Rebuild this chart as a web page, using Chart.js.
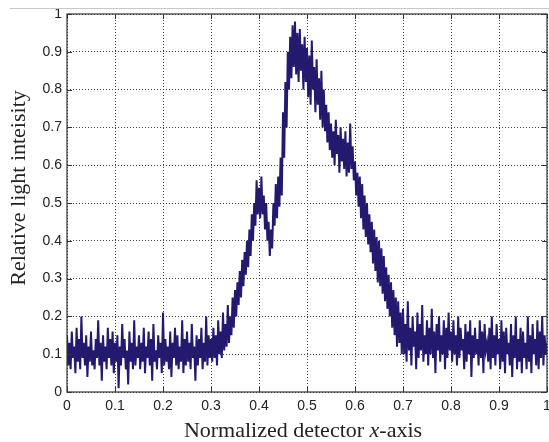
<!DOCTYPE html>
<html>
<head>
<meta charset="utf-8">
<script src="https://cdn.jsdelivr.net/npm/chart.js@4/dist/chart.umd.min.js"></script>
<style>
  html, body { margin: 0; padding: 0; background: #fff; }
  #wrap { width: 549px; height: 442px; }
</style>
</head>
<body>
<div id="wrap"><canvas id="chart" width="549" height="442"></canvas></div>
<script>
// tick labels
const xTicks = [0, 0.1, 0.2, 0.3, 0.4, 0.5, 0.6, 0.7, 0.8, 0.9, 1];
const yTicks = [0, 0.1, 0.2, 0.3, 0.4, 0.5, 0.6, 0.7, 0.8, 0.9, 1];

// relative light intensity (401 samples, 0..1 on the detector axis)
const lightLevels = [
  0.15,0.07,0.13,0.06,0.16,0.09,0.12,0.05,0.17,0.08,0.14,0.06,0.20,0.09,0.13,0.07,0.15,0.04,0.12,0.08,
  0.16,0.07,0.11,0.06,0.14,0.09,0.19,0.07,0.13,0.03,0.15,0.08,0.12,0.06,0.17,0.09,0.14,0.07,0.16,0.05,
  0.13,0.08,0.15,0.01,0.12,0.07,0.18,0.09,0.14,0.06,0.11,0.02,0.16,0.08,0.13,0.06,0.19,0.07,0.12,0.09,
  0.15,0.06,0.13,0.08,0.17,0.05,0.12,0.09,0.16,0.07,0.14,0.03,0.18,0.08,0.11,0.06,0.15,0.09,0.13,0.05,
  0.21,0.07,0.14,0.08,0.12,0.06,0.16,0.04,0.13,0.09,0.17,0.07,0.15,0.06,0.12,0.08,0.19,0.05,0.14,0.07,
  0.16,0.08,0.13,0.06,0.18,0.09,0.12,0.03,0.15,0.07,0.14,0.09,0.17,0.06,0.13,0.08,0.20,0.07,0.15,0.09,
  0.14,0.08,0.17,0.09,0.15,0.07,0.19,0.10,0.16,0.09,0.21,0.11,0.18,0.12,0.23,0.13,0.20,0.15,0.25,0.17,
  0.27,0.20,0.29,0.23,0.32,0.25,0.35,0.28,0.37,0.31,0.40,0.33,0.43,0.36,0.47,0.40,0.50,0.44,0.56,0.47,
  0.54,0.46,0.57,0.47,0.52,0.43,0.50,0.40,0.45,0.36,0.43,0.38,0.50,0.44,0.55,0.46,0.57,0.49,0.62,0.52,
  0.74,0.62,0.82,0.70,0.90,0.80,0.94,0.83,0.97,0.86,0.98,0.84,0.95,0.82,0.96,0.85,0.92,0.80,0.94,0.82,
  0.91,0.78,0.89,0.76,0.93,0.80,0.86,0.74,0.88,0.76,0.83,0.72,0.85,0.70,0.80,0.69,0.76,0.66,0.74,0.64,
  0.71,0.62,0.69,0.60,0.72,0.63,0.68,0.58,0.70,0.61,0.67,0.59,0.69,0.57,0.66,0.58,0.71,0.59,0.65,0.56,
  0.61,0.52,0.58,0.49,0.57,0.46,0.55,0.43,0.52,0.41,0.50,0.39,0.47,0.37,0.45,0.34,0.43,0.32,0.41,0.29,
  0.40,0.28,0.38,0.26,0.36,0.24,0.33,0.22,0.31,0.20,0.29,0.17,0.27,0.15,0.25,0.12,0.24,0.13,0.21,0.10,
  0.22,0.10,0.18,0.08,0.24,0.11,0.17,0.07,0.20,0.12,0.16,0.06,0.21,0.09,0.18,0.11,0.23,0.08,0.15,0.10,
  0.19,0.07,0.17,0.10,0.22,0.09,0.16,0.05,0.18,0.11,0.20,0.08,0.15,0.10,0.19,0.06,0.17,0.09,0.21,0.11,
  0.16,0.08,0.19,0.10,0.15,0.07,0.20,0.09,0.17,0.11,0.14,0.06,0.18,0.08,0.16,0.10,0.19,0.04,0.15,0.09,
  0.17,0.10,0.14,0.07,0.19,0.09,0.16,0.05,0.18,0.11,0.13,0.08,0.17,0.06,0.20,0.09,0.15,0.07,0.18,0.10,
  0.14,0.06,0.19,0.08,0.16,0.05,0.17,0.10,0.13,0.07,0.18,0.04,0.15,0.09,0.20,0.06,0.14,0.08,0.17,0.05,
  0.16,0.09,0.13,0.06,0.20,0.08,0.15,0.05,0.18,0.10,0.14,0.07,0.19,0.06,0.16,0.09,0.20,0.07,0.15,0.10,
  0.13
];

const yTitle = "Relative light inteisity";
const xTitleParts = [["Normalized detector ", false], ["x", true], ["-axis", false]];

const points = lightLevels.map((v, i) => ({ x: i / (lightLevels.length - 1), y: v }));

const fmt = (v) => String(Number(v.toFixed(1)));
const serif = "'Liberation Serif', 'Times New Roman', serif";

// MATLAB-like frame: box, inward ticks, axis titles
const framePlugin = {
  id: "frame",
  afterDraw(chart) {
    const { ctx, chartArea: a, scales } = chart;
    ctx.save();
    // faint page rule above the plot
    ctx.strokeStyle = "#c8c8c8";
    ctx.lineWidth = 1;
    ctx.beginPath();
    ctx.moveTo(10, 8.5);
    ctx.lineTo(549, 8.5);
    ctx.stroke();

    ctx.strokeStyle = "#333";
    ctx.lineWidth = 1.2;
    ctx.strokeRect(a.left, a.top, a.right - a.left, a.bottom - a.top);

    ctx.lineWidth = 1;
    ctx.beginPath();
    xTicks.forEach((t) => {
      const px = Math.round(scales.x.getPixelForValue(t)) + 0.5;
      ctx.moveTo(px, a.bottom); ctx.lineTo(px, a.bottom - 5);
      ctx.moveTo(px, a.top); ctx.lineTo(px, a.top + 5);
    });
    yTicks.forEach((t) => {
      const py = Math.round(scales.y.getPixelForValue(t)) + 0.5;
      ctx.moveTo(a.left, py); ctx.lineTo(a.left + 5, py);
      ctx.moveTo(a.right, py); ctx.lineTo(a.right - 5, py);
    });
    ctx.stroke();

    ctx.fillStyle = "#222";

    // y title, rotated
    ctx.save();
    ctx.translate(25, 188);
    ctx.rotate(-Math.PI / 2);
    ctx.font = "22px " + serif;
    ctx.textAlign = "center";
    ctx.textBaseline = "alphabetic";
    ctx.fillText(yTitle, 0, 0);
    ctx.restore();

    // x title with italic x
    ctx.textBaseline = "alphabetic";
    const fonts = xTitleParts.map(([, it]) => (it ? "italic " : "") + "22px " + serif);
    let total = 0;
    xTitleParts.forEach(([txt], k) => { ctx.font = fonts[k]; total += ctx.measureText(txt).width; });
    let x = (a.left + a.right) / 2 - total / 2 - 4;
    xTitleParts.forEach(([txt], k) => {
      ctx.font = fonts[k];
      ctx.fillText(txt, x, 437);
      x += ctx.measureText(txt).width;
    });
    ctx.restore();
  }
};

new Chart(document.getElementById("chart"), {
  type: "line",
  data: {
    datasets: [{
      data: points,
      borderColor: "#231a70",
      borderWidth: 2,
      pointRadius: 0,
      tension: 0,
      fill: false
    }]
  },
  options: {
    responsive: false,
    animation: false,
    layout: { padding: { top: 14, right: 2, left: 0, bottom: 0 } },
    plugins: { legend: { display: false }, tooltip: { enabled: false } },
    scales: {
      x: {
        type: "linear",
        min: 0,
        max: 1,
        afterBuildTicks: (s) => { s.ticks = xTicks.map((v) => ({ value: v })); },
        afterFit: (s) => { s.height = 50; s.paddingLeft = 0; s.paddingRight = 0; },
        ticks: {
          callback: fmt,
          color: "#222",
          padding: 6,
          maxRotation: 0,
          font: { family: "'Liberation Sans', Arial, sans-serif", size: 14 }
        },
        grid: { color: "#444", lineWidth: 1, drawTicks: false },
        border: { display: false, dash: [1, 2] }
      },
      y: {
        min: 0,
        max: 1,
        afterBuildTicks: (s) => { s.ticks = yTicks.map((v) => ({ value: v })); },
        afterFit: (s) => { s.width = 67; s.paddingTop = 0; s.paddingBottom = 0; },
        ticks: {
          callback: fmt,
          color: "#222",
          padding: 5,
          font: { family: "'Liberation Sans', Arial, sans-serif", size: 14 }
        },
        grid: { color: "#444", lineWidth: 1, drawTicks: false },
        border: { display: false, dash: [1, 2] }
      }
    }
  },
  plugins: [framePlugin]
});
</script>
</body>
</html>
